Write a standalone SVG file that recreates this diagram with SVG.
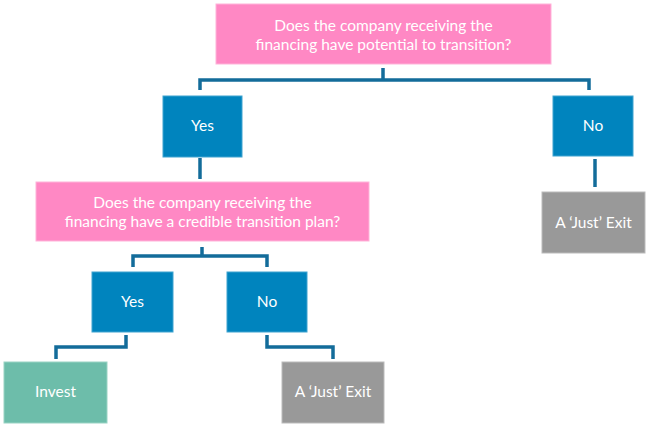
<svg xmlns="http://www.w3.org/2000/svg" width="650" height="427" viewBox="0 0 650 427">
<style>
.q{fill:#FF88C4;stroke:#FFB3D9;stroke-width:1}
.b{fill:#0084BE;stroke:#3FA3D0;stroke-width:1}
.g{fill:#999999;stroke:#BBBBBB;stroke-width:1}
.t{fill:#6DBDAA;stroke:#9AD3C4;stroke-width:1}
text{font-family:Lato,"Open Sans","Liberation Sans",sans-serif;font-size:15.5px;fill:#FFFFFF;text-anchor:middle}
.c{fill:none;stroke:#136C9A;stroke-width:3.5}
</style>
<rect width="650" height="427" fill="#FFFFFF"/>
<g id="connectors">
<path class="c" d="M383,68 V80 M200,90 V80 H589 V90"/>
<path class="c" d="M595,159 V187"/>
<path class="c" d="M200,158 V179"/>
<path class="c" d="M202,247 V256 M133,267 V256 H267 V267"/>
<path class="c" d="M126,335 V347 H56 V359"/>
<path class="c" d="M267,335 V347 H333 V359"/>
</g>
<g id="q1"><rect class="q" x="216" y="4" width="335" height="60"/>
<text x="383.5" y="30.5">Does the company receiving the</text>
<text x="383.5" y="49.5">financing have potential to transition?</text></g>
<g id="yes1"><rect class="b" x="163" y="96" width="79" height="61"/><text x="202.5" y="131">Yes</text></g>
<g id="no1"><rect class="b" x="553" y="96" width="80" height="60"/><text x="593" y="131">No</text></g>
<g id="exit1"><rect class="g" x="542" y="192" width="103" height="61"/><text x="593.5" y="228">A ‘Just’ Exit</text></g>
<g id="q2"><rect class="q" x="36" y="182" width="333" height="59"/>
<text x="202.5" y="208">Does the company receiving the</text>
<text x="202.5" y="227">financing have a credible transition plan?</text></g>
<g id="yes2"><rect class="b" x="92" y="272" width="81" height="60"/><text x="132.5" y="307">Yes</text></g>
<g id="no2"><rect class="b" x="227" y="272" width="80" height="60"/><text x="267" y="307">No</text></g>
<g id="invest"><rect class="t" x="4" y="362" width="103" height="61"/><text x="55.5" y="397">Invest</text></g>
<g id="exit2"><rect class="g" x="282" y="362" width="102" height="61"/><text x="333" y="397">A ‘Just’ Exit</text></g>
</svg>
